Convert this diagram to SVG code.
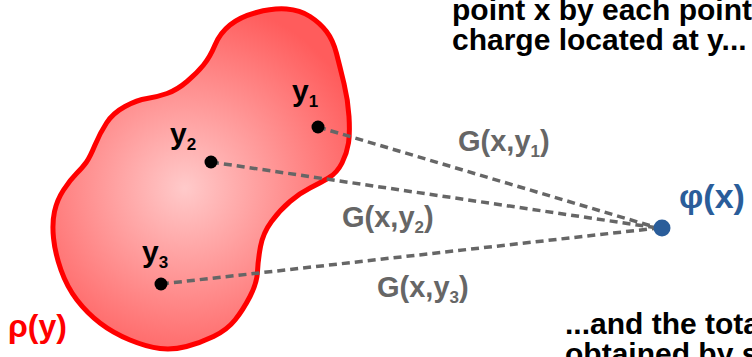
<svg xmlns="http://www.w3.org/2000/svg" width="752" height="357" viewBox="0 0 752 357">
<style>
.txt{font-family:"Liberation Sans",Arial,sans-serif;font-weight:bold;font-size:30px;fill:#000}
.lbl{font-family:"Liberation Sans",Arial,sans-serif;font-weight:bold}
.ylab{font-size:30px;fill:#000}
.glab{font-size:29px;fill:#666}
.sub{font-size:17px}
.conn{stroke:#666;stroke-width:3.5;stroke-dasharray:8 5;fill:none}
.dot{fill:#000}
</style>
<defs>
<radialGradient id="blobfill" cx="185" cy="188" r="190" gradientUnits="userSpaceOnUse">
<stop offset="0" stop-color="#ffcaca"/>
<stop offset="1" stop-color="#ff5c5c"/>
</radialGradient>
</defs>
<g id="text-top">
<text class="txt" x="452" y="20">point x by each point</text>
<text class="txt" x="452" y="50">charge located at y...</text>
</g>
<g id="text-bottom">
<text class="txt" x="565" y="334">...and the total</text>
<text class="txt" x="565" y="364">obtained by s</text>
</g>
<g id="region">
<path d="M215,45 Q220,33 230,25 Q240,17 256.5,12.5 Q273,8 286.5,9 Q300,10 310,16.5 Q320,23 326.5,31.5 Q333,40 336.5,53.5 Q340,67 344,83.5 Q348,100 349,116.5 Q350,133 348.5,143 Q347,153 342,163 Q337,173 328.5,178 Q320,183 310,188 Q300,193 290,201.5 Q280,210 271.5,221.5 Q263,233 260.5,246.5 Q258,260 257.5,271.5 Q257,283 250,296.5 Q243,310 235,320 Q227,330 213.5,336.5 Q200,343 186.5,346.5 Q173,350 160,348.5 Q147,347 130,340 Q113,333 100,323 Q87,313 77,300 Q67,287 61,270 Q55,253 53.5,238 Q52,223 54.5,211.5 Q57,200 63.5,190 Q70,180 76.5,173.5 Q83,167 86.5,162 Q90,157 95,145 Q100,133 106.5,123 Q113,113 125,106.5 Q137,100 147,98.5 Q157,97 167,93.5 Q177,90 187,81.5 Q197,73 203.5,65 Q210,57 215,45 Z" fill="url(#blobfill)" stroke="#ff0000" stroke-width="5" stroke-linejoin="round"/>
<text class="lbl" x="8" y="337" font-size="32" fill="#ff0000">ρ(y)</text>
</g>
<g id="connectors">
<line class="conn" x1="318" y1="127" x2="658" y2="228"/>
<line class="conn" x1="211" y1="162" x2="658" y2="228"/>
<line class="conn" x1="161" y1="284" x2="658" y2="228"/>
<text class="lbl glab" x="458" y="151">G(x,y<tspan class="sub" dy="6">1</tspan><tspan dy="-6">)</tspan></text>
<text class="lbl glab" x="342" y="227">G(x,y<tspan class="sub" dy="6">2</tspan><tspan dy="-6">)</tspan></text>
<text class="lbl glab" x="377" y="297">G(x,y<tspan class="sub" dy="6">3</tspan><tspan dy="-6">)</tspan></text>
</g>
<g id="y1">
<circle class="dot" cx="318" cy="127" r="6.5"/>
<text class="lbl ylab" x="292" y="101">y<tspan class="sub" dy="6">1</tspan></text>
</g>
<g id="y2">
<circle class="dot" cx="211" cy="162" r="6.5"/>
<text class="lbl ylab" x="170" y="144">y<tspan class="sub" dy="6">2</tspan></text>
</g>
<g id="y3">
<circle class="dot" cx="161" cy="284" r="6.5"/>
<text class="lbl ylab" x="142" y="262">y<tspan class="sub" dy="6">3</tspan></text>
</g>
<g id="phi">
<circle cx="662" cy="228" r="8.5" fill="#2a5d9a"/>
<text class="lbl" x="679" y="208" font-size="34" fill="#2a5d9a">φ(x)</text>
</g>
</svg>
